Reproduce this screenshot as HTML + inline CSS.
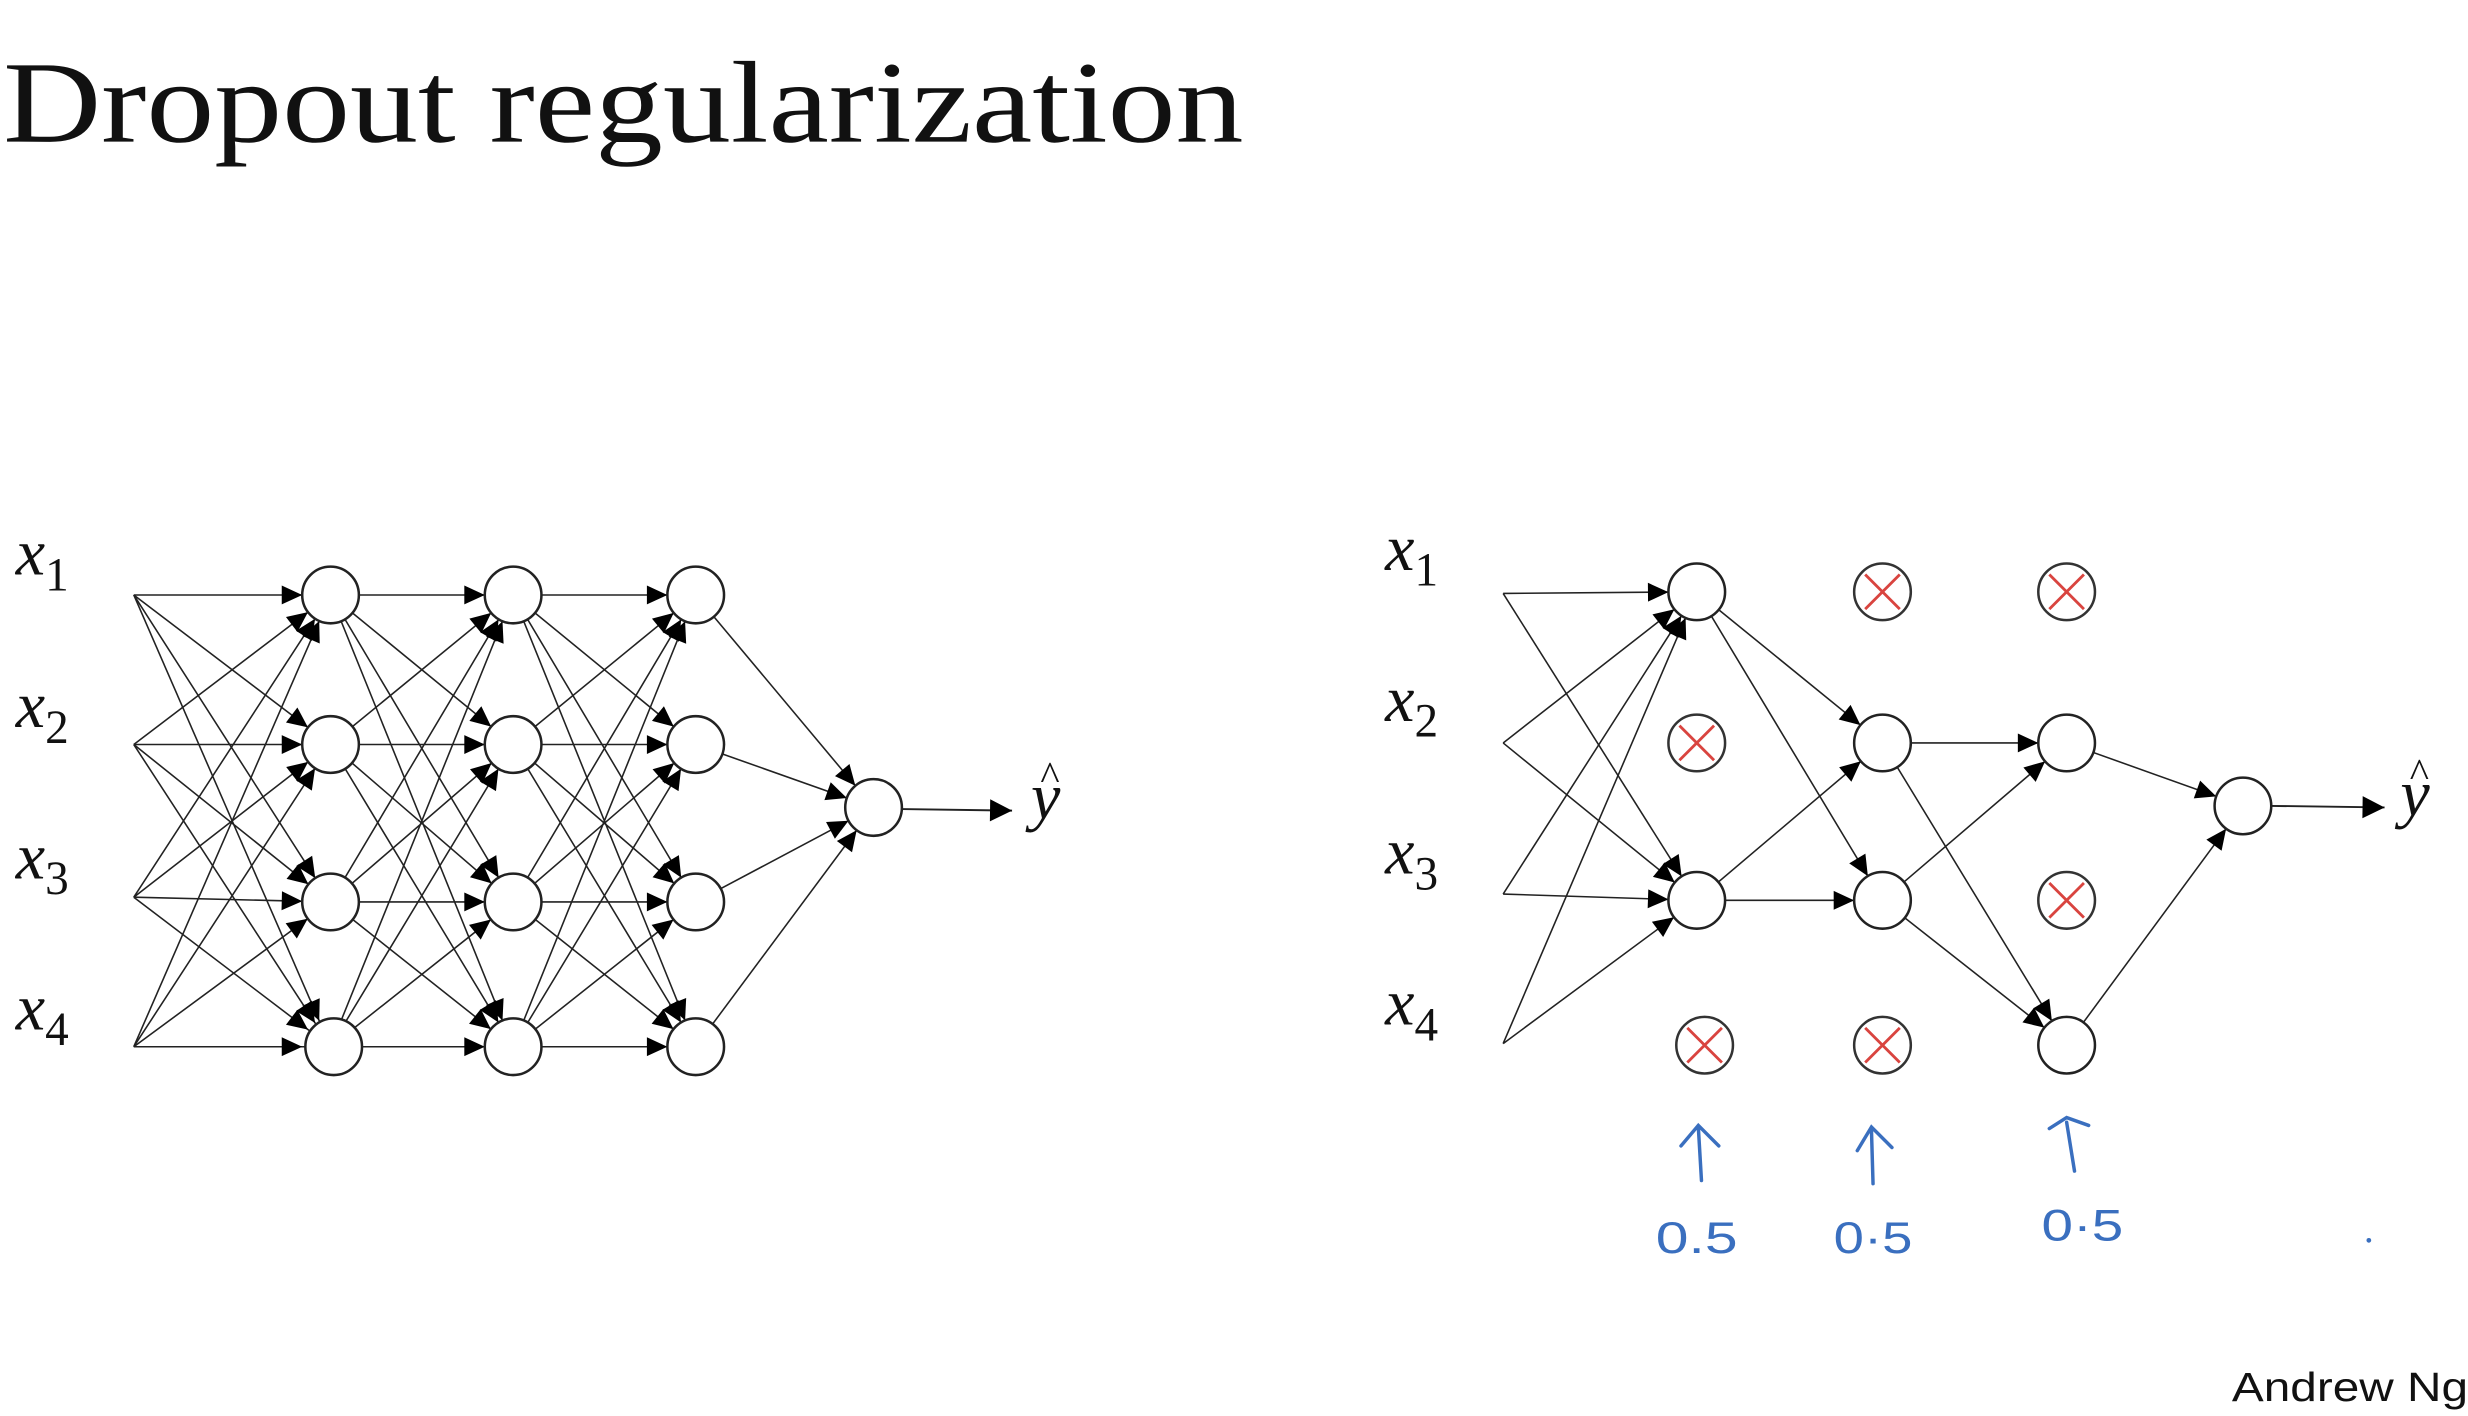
<!DOCTYPE html>
<html><head><meta charset="utf-8"><style>
html,body{margin:0;padding:0;background:#fff;}
svg{display:block;}
</style></head><body>
<svg width="2468" height="1416" viewBox="0 0 1568 899.6" preserveAspectRatio="none" xmlns="http://www.w3.org/2000/svg">
<defs>
<marker id="a" markerUnits="userSpaceOnUse" markerWidth="30" markerHeight="30" refX="18" refY="0" orient="auto" overflow="visible">
<path d="M-13,-6 L0,0 L-13,6 z" fill="#000"/>
</marker>
<marker id="b" markerUnits="userSpaceOnUse" markerWidth="30" markerHeight="30" refX="0" refY="0" orient="auto" overflow="visible">
<path d="M-14,-7 L0,0 L-14,7 z" fill="#000"/>
</marker>
</defs>
<rect width="1568" height="900" fill="#fff"/>
<text x="2" y="90" font-family="Liberation Serif, serif" font-size="74" textLength="788" lengthAdjust="spacingAndGlyphs" fill="#111">Dropout regularization</text>

<g stroke="#222" stroke-width="1" fill="none" marker-end="url(#a)">
<line x1="85" y1="378" x2="210" y2="378"/><line x1="85" y1="378" x2="210" y2="473"/><line x1="85" y1="378" x2="210" y2="573"/><line x1="85" y1="378" x2="210" y2="665"/>
<line x1="85" y1="473" x2="210" y2="378"/><line x1="85" y1="473" x2="210" y2="473"/><line x1="85" y1="473" x2="210" y2="573"/><line x1="85" y1="473" x2="210" y2="665"/>
<line x1="85" y1="570" x2="210" y2="378"/><line x1="85" y1="570" x2="210" y2="473"/><line x1="85" y1="570" x2="210" y2="573"/><line x1="85" y1="570" x2="210" y2="665"/>
<line x1="85" y1="665" x2="210" y2="378"/><line x1="85" y1="665" x2="210" y2="473"/><line x1="85" y1="665" x2="210" y2="573"/><line x1="85" y1="665" x2="210" y2="665"/>
<line x1="210" y1="378" x2="326" y2="378"/><line x1="210" y1="378" x2="326" y2="473"/><line x1="210" y1="378" x2="326" y2="573"/><line x1="210" y1="378" x2="326" y2="665"/>
<line x1="210" y1="473" x2="326" y2="378"/><line x1="210" y1="473" x2="326" y2="473"/><line x1="210" y1="473" x2="326" y2="573"/><line x1="210" y1="473" x2="326" y2="665"/>
<line x1="210" y1="573" x2="326" y2="378"/><line x1="210" y1="573" x2="326" y2="473"/><line x1="210" y1="573" x2="326" y2="573"/><line x1="210" y1="573" x2="326" y2="665"/>
<line x1="210" y1="665" x2="326" y2="378"/><line x1="210" y1="665" x2="326" y2="473"/><line x1="210" y1="665" x2="326" y2="573"/><line x1="210" y1="665" x2="326" y2="665"/>
<line x1="326" y1="378" x2="442" y2="378"/><line x1="326" y1="378" x2="442" y2="473"/><line x1="326" y1="378" x2="442" y2="573"/><line x1="326" y1="378" x2="442" y2="665"/>
<line x1="326" y1="473" x2="442" y2="378"/><line x1="326" y1="473" x2="442" y2="473"/><line x1="326" y1="473" x2="442" y2="573"/><line x1="326" y1="473" x2="442" y2="665"/>
<line x1="326" y1="573" x2="442" y2="378"/><line x1="326" y1="573" x2="442" y2="473"/><line x1="326" y1="573" x2="442" y2="573"/><line x1="326" y1="573" x2="442" y2="665"/>
<line x1="326" y1="665" x2="442" y2="378"/><line x1="326" y1="665" x2="442" y2="473"/><line x1="326" y1="665" x2="442" y2="573"/><line x1="326" y1="665" x2="442" y2="665"/>
<line x1="442" y1="378" x2="555" y2="513"/><line x1="442" y1="473" x2="555" y2="513"/><line x1="442" y1="573" x2="555" y2="513"/><line x1="442" y1="665" x2="555" y2="513"/>
</g>
<line x1="573" y1="514" x2="643" y2="515" stroke="#222" stroke-width="1.2" marker-end="url(#b)"/>
<g stroke="#222" stroke-width="1.6" fill="#fff">
<circle cx="210" cy="378" r="18"/><circle cx="210" cy="473" r="18"/><circle cx="210" cy="573" r="18"/><circle cx="212" cy="665" r="18"/>
<circle cx="326" cy="378" r="18"/><circle cx="326" cy="473" r="18"/><circle cx="326" cy="573" r="18"/><circle cx="326" cy="665" r="18"/>
<circle cx="442" cy="378" r="18"/><circle cx="442" cy="473" r="18"/><circle cx="442" cy="573" r="18"/><circle cx="442" cy="665" r="18"/>
<circle cx="555" cy="513" r="18"/>
</g>
<g font-family="Liberation Serif, serif" font-style="italic" font-size="42" fill="#111">
<text x="10" y="365">x<tspan font-style="normal" font-size="30" dy="10">1</tspan></text>
<text x="10" y="462">x<tspan font-style="normal" font-size="30" dy="10">2</tspan></text>
<text x="10" y="558">x<tspan font-style="normal" font-size="30" dy="10">3</tspan></text>
<text x="10" y="654">x<tspan font-style="normal" font-size="30" dy="10">4</tspan></text>
<text x="655" y="520">y</text><text x="661" y="502" font-style="normal" font-size="26">^</text>
</g>

<g stroke="#222" stroke-width="1" fill="none" marker-end="url(#a)">
<line x1="955" y1="377" x2="1078" y2="376"/><line x1="955" y1="377" x2="1078" y2="572"/>
<line x1="955" y1="472" x2="1078" y2="376"/><line x1="955" y1="472" x2="1078" y2="572"/>
<line x1="955" y1="568" x2="1078" y2="376"/><line x1="955" y1="568" x2="1078" y2="572"/>
<line x1="955" y1="663" x2="1078" y2="376"/><line x1="955" y1="663" x2="1078" y2="572"/>
<line x1="1078" y1="376" x2="1196" y2="472"/><line x1="1078" y1="376" x2="1196" y2="572"/>
<line x1="1078" y1="572" x2="1196" y2="472"/><line x1="1078" y1="572" x2="1196" y2="572"/>
<line x1="1196" y1="472" x2="1313" y2="472"/><line x1="1196" y1="472" x2="1313" y2="664"/>
<line x1="1196" y1="572" x2="1313" y2="472"/><line x1="1196" y1="572" x2="1313" y2="664"/>
<line x1="1313" y1="472" x2="1425" y2="512"/><line x1="1313" y1="664" x2="1425" y2="512"/>
</g>
<line x1="1443" y1="512" x2="1515" y2="513" stroke="#222" stroke-width="1.2" marker-end="url(#b)"/>
<g stroke="#222" stroke-width="1.6" fill="#fff">
<circle cx="1078" cy="376" r="18"/><circle cx="1078" cy="572" r="18"/>
<circle cx="1196" cy="472" r="18"/><circle cx="1196" cy="572" r="18"/>
<circle cx="1313" cy="472" r="18"/><circle cx="1313" cy="664" r="18"/>
<circle cx="1425" cy="512" r="18"/>
</g>
<g stroke="#333" stroke-width="1.6" fill="#fff">
<circle cx="1196" cy="376" r="18"/><circle cx="1313" cy="376" r="18"/>
<circle cx="1078" cy="472" r="18"/><circle cx="1313" cy="572" r="18"/>
<circle cx="1083" cy="664" r="18"/><circle cx="1196" cy="664" r="18"/>
</g>
<g stroke="#d9443f" stroke-width="1.8">
<path d="M1185,365 L1207,387 M1207,365 L1185,387"/>
<path d="M1302,365 L1324,387 M1324,365 L1302,387"/>
<path d="M1067,461 L1089,483 M1089,461 L1067,483"/>
<path d="M1302,561 L1324,583 M1324,561 L1302,583"/>
<path d="M1072,653 L1094,675 M1094,653 L1072,675"/>
<path d="M1185,653 L1207,675 M1207,653 L1185,675"/>
</g>
<g font-family="Liberation Serif, serif" font-style="italic" font-size="42" fill="#111">
<text x="880" y="362">x<tspan font-style="normal" font-size="30" dy="10">1</tspan></text>
<text x="880" y="458">x<tspan font-style="normal" font-size="30" dy="10">2</tspan></text>
<text x="880" y="555">x<tspan font-style="normal" font-size="30" dy="10">3</tspan></text>
<text x="880" y="651">x<tspan font-style="normal" font-size="30" dy="10">4</tspan></text>
<text x="1525" y="518">y</text><text x="1531" y="500" font-style="normal" font-size="26">^</text>
</g>

<g stroke="#3a6fbf" stroke-width="2.2" fill="none" stroke-linecap="round">
<path d="M1081,750 L1079,716 M1068,728 L1079,715 L1092,728"/>
<path d="M1190,752 L1189,718 M1180,731 L1189,716 L1202,729"/>
<path d="M1318,744 L1313,713 M1302,717 L1313,710 L1327,715"/>
</g>
<g font-family="Liberation Sans, sans-serif" font-size="28" fill="#3a6fbf">
<text x="1052" y="796" textLength="52" lengthAdjust="spacingAndGlyphs">0.5</text>
<text x="1165" y="796" textLength="50" lengthAdjust="spacingAndGlyphs">0·5</text>
<text x="1297" y="788" textLength="52" lengthAdjust="spacingAndGlyphs">0·5</text>
</g>
<circle cx="1505" cy="788" r="1.5" fill="#3a6fbf"/>

<text x="1418" y="890" font-family="Liberation Sans, sans-serif" font-size="26" textLength="150" lengthAdjust="spacingAndGlyphs" fill="#111">Andrew Ng</text>
</svg>
</body></html>
